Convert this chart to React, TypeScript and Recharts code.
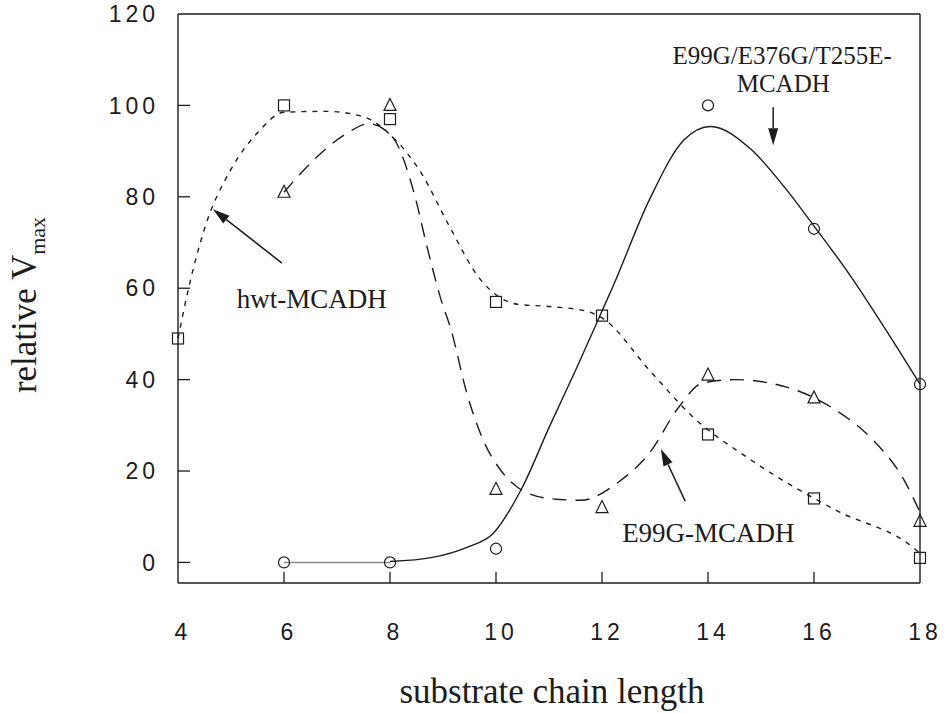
import { ComposedChart, Line, Scatter, XAxis, YAxis, Customized } from "recharts"

// measured points (relative Vmax vs substrate chain length)
const chainLength = [4, 6, 8, 10, 12, 14, 16, 18]
const hwtVmax = [49, 100, 97, 57, 54, 28, 14, 1]
const e99gVmax = [null, 81, 100, 16, 12, 41, 36, 9]
const tripleVmax = [null, 0, 0, 3, null, 100, 73, 39]

const xTicks = [4, 6, 8, 10, 12, 14, 16, 18]
const yTicks = [0, 20, 40, 60, 80, 100, 120]

// smooth fit curves
const hwtFitX = [4, 4.2, 4.5, 5, 5.5, 6, 6.8, 7.5, 8.1, 8.6, 9.1, 9.7, 10.4, 11, 11.7, 12, 12.9, 13.7, 14.8, 16.4, 17.9, 18]
const hwtFitY = [49, 60, 73, 86, 94, 98.5, 98.7, 97.5, 92.5, 85, 74, 62, 56.5, 56, 55, 53.5, 42, 32, 22.5, 11.5, 3, 2]

const e99gFitX = [6, 6.6, 7.2, 7.6, 8.05, 8.45, 8.7, 8.95, 9.15, 9.45, 9.75, 10.1, 10.4, 11, 11.6, 12.3, 12.9, 13.45, 13.9, 14.5, 15.5, 16.4, 17.05, 17.7, 18]
const e99gFitY = [81, 88.5, 94, 96, 93, 81, 69, 58, 51, 37, 27, 20, 16.5, 14, 13.6, 17.5, 24, 34, 39.3, 40, 38.3, 33.4, 27.5, 18, 11]

const tripleFitX = [8, 8.8, 9.45, 9.95, 10.5, 11, 11.5, 12, 12.2, 12.9, 13.55, 14.05, 14.8, 15.45, 16, 16.7, 17.35, 18]
const tripleFitY = [0.2, 1.1, 3.3, 6.4, 16.5, 29.5, 42, 55, 60.2, 79.5, 92.5, 95.4, 90.5, 82, 73.6, 62.5, 51, 39]

const tripleFlatX = [6, 8]
const tripleFlatY = [0, 0]

const W = 951
const H = 714
const margin = { top: 13, right: 30, bottom: 81, left: 118 }
const LEFT_W = 60
const BOTTOM_H = 50
const X_MIN = 4
const X_MAX = 18
const Y_MIN = -4.5
const Y_MAX = 120
const PLOT_L = margin.left + LEFT_W
const PLOT_T = margin.top + 1
const PLOT_W = W - PLOT_L - margin.right - 1
const PLOT_H = H - PLOT_T - margin.bottom - BOTTOM_H

const ink = "#1c1c1c"
const serif = "'Liberation Serif', 'Times New Roman', serif"
const sans = "'Liberation Sans', Arial, sans-serif"

const zip = (xs: number[], ys: (number | null)[]) =>
    xs.map((x, i) => ({ x, y: ys[i] })).filter(d => d.y !== null)

const hwtPoints = zip(chainLength, hwtVmax)
const e99gPoints = zip(chainLength, e99gVmax)
const triplePoints = zip(chainLength, tripleVmax)
const hwtFit = zip(hwtFitX, hwtFitY)
const e99gFit = zip(e99gFitX, e99gFitY)
const tripleFit = zip(tripleFitX, tripleFitY)
const tripleFlat = zip(tripleFlatX, tripleFlatY)

// data -> pixel, only used for the annotation text/arrows
const sx = (v: number) => PLOT_L + ((v - X_MIN) / (X_MAX - X_MIN)) * PLOT_W
const sy = (v: number) => PLOT_T + ((Y_MAX - v) / (Y_MAX - Y_MIN)) * PLOT_H

const BottomTick = (props: any) => {
    const { x, y, payload } = props
    const inner = payload.value > X_MIN && payload.value < X_MAX
    return (
        <g>
            {inner && <line x1={x} y1={y} x2={x} y2={y - 11} stroke={ink} strokeWidth={1.3} />}
            <text x={x + 5} y={y + 57} textAnchor="middle" fontFamily={sans} fontSize={23} letterSpacing={4} fill={ink}>
                {payload.value}
            </text>
        </g>
    )
}

const LeftTick = (props: any) => {
    const { x, y, payload } = props
    return (
        <g>
            {payload.value < Y_MAX && <line x1={x} y1={y} x2={x + 12} y2={y} stroke={ink} strokeWidth={1.3} />}
            <text x={x - 19} y={y} dy="0.36em" textAnchor="end" fontFamily={sans} fontSize={23} letterSpacing={4} fill={ink}>
                {payload.value}
            </text>
        </g>
    )
}

const TopTick = (props: any) => {
    const { x, y, payload } = props
    if (payload.value <= X_MIN || payload.value >= X_MAX) return <g />
    return <line x1={x} y1={y} x2={x} y2={y + 12} stroke={ink} strokeWidth={1.3} />
}

const RightTick = (props: any) => {
    const { x, y, payload } = props
    if (payload.value <= 0 || payload.value >= Y_MAX) return <g />
    return <line x1={x} y1={y} x2={x - 11} y2={y} stroke={ink} strokeWidth={1.3} />
}

const Square = (props: any) => (
    <rect x={props.cx - 5.5} y={props.cy - 5.5} width={11} height={11} fill="none" stroke={ink} strokeWidth={1.2} />
)
const Triangle = (props: any) => {
    const { cx, cy } = props
    return <polygon points={`${cx},${cy - 7} ${cx + 6},${cy + 5} ${cx - 6},${cy + 5}`} fill="none" stroke={ink} strokeWidth={1.2} />
}
const Circle = (props: any) => <circle cx={props.cx} cy={props.cy} r={5.5} fill="none" stroke={ink} strokeWidth={1.2} />

const arrows = [
    { from: [5.96, 65.5], to: [4.66, 77.3] },
    { from: [13.57, 13.4], to: [13.11, 24.8] },
    { from: [15.23, 99.6], to: [15.23, 91.3] },
]

const Arrow = ({ from, to }: { from: number[]; to: number[] }) => {
    const x1 = sx(from[0]), y1 = sy(from[1]), x2 = sx(to[0]), y2 = sy(to[1])
    const ang = Math.atan2(y2 - y1, x2 - x1)
    const len = 17, half = 5
    const bx = x2 - len * Math.cos(ang), by = y2 - len * Math.sin(ang)
    const px = -Math.sin(ang) * half, py = Math.cos(ang) * half
    return (
        <g>
            <line x1={x1} y1={y1} x2={bx} y2={by} stroke={ink} strokeWidth={1.5} />
            <polygon points={`${x2},${y2} ${bx + px},${by + py} ${bx - px},${by - py}`} fill={ink} />
        </g>
    )
}

const Annotations = () => (
    <g fontFamily={serif} fill={ink}>
        {arrows.map((a, i) => <Arrow key={i} from={a.from} to={a.to} />)}
        <text x={sx(5.11)} y={sy(55.7)} fontSize={27}>hwt-MCADH</text>
        <text x={sx(15.4)} y={sy(109)} fontSize={25} textAnchor="middle">E99G/E376G/T255E-</text>
        <text x={sx(15.42)} y={sy(102.9)} fontSize={25} textAnchor="middle">MCADH</text>
        <text x={sx(12.38)} y={sy(4.5)} fontSize={27}>E99G-MCADH</text>
        <text x={552} y={703} fontSize={35} textAnchor="middle">substrate chain length</text>
        <text transform="rotate(-90)" x={-305} y={36} fontSize={35} textAnchor="middle">
            relative V<tspan dy={9} fontSize={22}>max</tspan>
        </text>
    </g>
)

export default function App() {
    return (
        <div style={{ position: "absolute", left: 0, top: 0, background: "white" }}>
            <ComposedChart width={W} height={H} margin={margin}>
                <XAxis xAxisId="b" dataKey="x" type="number" domain={[X_MIN, X_MAX]} ticks={xTicks} interval={0}
                    height={BOTTOM_H} tickSize={0} tickMargin={0} tickLine={false}
                    axisLine={{ stroke: ink, strokeWidth: 1.4 }} tick={<BottomTick />} />
                <XAxis xAxisId="t" orientation="top" dataKey="x" type="number" domain={[X_MIN, X_MAX]} ticks={xTicks} interval={0}
                    height={1} tickSize={0} tickMargin={0} tickLine={false}
                    axisLine={{ stroke: ink, strokeWidth: 1.4 }} tick={<TopTick />} />
                <YAxis yAxisId="l" type="number" domain={[Y_MIN, Y_MAX]} ticks={yTicks} interval={0}
                    width={LEFT_W} tickSize={0} tickMargin={0} tickLine={false}
                    axisLine={{ stroke: ink, strokeWidth: 1.4 }} tick={<LeftTick />} />
                <YAxis yAxisId="r" orientation="right" type="number" domain={[Y_MIN, Y_MAX]} ticks={yTicks} interval={0}
                    width={1} tickSize={0} tickMargin={0} tickLine={false}
                    axisLine={{ stroke: ink, strokeWidth: 1.4 }} tick={<RightTick />} />

                <Line xAxisId="b" yAxisId="l" data={hwtFit} dataKey="y" type="monotone" stroke={ink} strokeWidth={1.4}
                    strokeDasharray="5 6" dot={false} activeDot={false} isAnimationActive={false} />
                <Line xAxisId="b" yAxisId="l" data={e99gFit} dataKey="y" type="monotone" stroke={ink} strokeWidth={1.4}
                    strokeDasharray="14 9" dot={false} activeDot={false} isAnimationActive={false} />
                <Line xAxisId="b" yAxisId="l" data={tripleFit} dataKey="y" type="monotone" stroke={ink} strokeWidth={1.4}
                    dot={false} activeDot={false} isAnimationActive={false} />
                <Line xAxisId="b" yAxisId="l" data={tripleFlat} dataKey="y" type="linear" stroke="#8c8c8c" strokeWidth={1.4}
                    dot={false} activeDot={false} isAnimationActive={false} />

                <Scatter xAxisId="b" yAxisId="l" data={hwtPoints} dataKey="y" shape={<Square />} isAnimationActive={false} />
                <Scatter xAxisId="b" yAxisId="l" data={e99gPoints} dataKey="y" shape={<Triangle />} isAnimationActive={false} />
                <Scatter xAxisId="b" yAxisId="l" data={triplePoints} dataKey="y" shape={<Circle />} isAnimationActive={false} />

                <Customized component={Annotations} />
            </ComposedChart>
        </div>
    )
}
